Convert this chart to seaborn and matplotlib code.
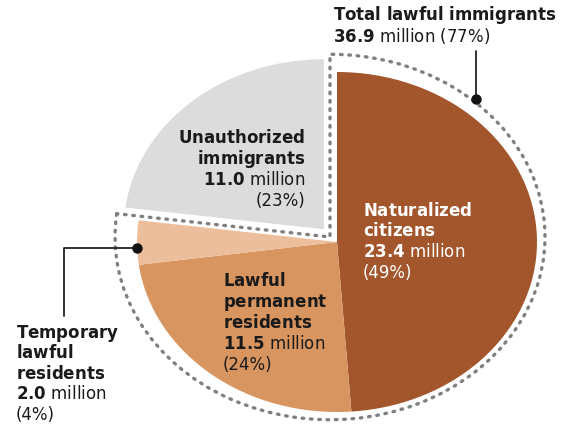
import matplotlib
matplotlib.use("Agg")
import matplotlib.pyplot as plt
from matplotlib.patches import Wedge
import seaborn as sns

# data
groups = ["Naturalized citizens", "Lawful permanent residents",
          "Temporary lawful residents", "Unauthorized immigrants"]
millions = [23.4, 11.5, 2.0, 11.0]
shares = [49, 24, 4, 23]
lawful_total = 36.9
lawful_share = 77
colors = ["#a3562b", "#d9955f", "#ecbe9c", "#dcdcdc"]
explode = [0, 0, 0, 0.1]

sns.set_theme(style="white")
plt.rcParams["font.family"] = ["DejaVu Sans"]
plt.rcParams["mathtext.fontset"] = "dejavusans"

W, H = 563, 435
fig = plt.figure(figsize=(W / 100, H / 100), dpi=100)
fig.patch.set_facecolor("white")
ax = fig.add_axes([0, 0, 1, 1])

# pie centre and radii in pixels (the original is stretched horizontally)
cx, cy, rx, ry = 337, 243, 200, 170

ax.pie(millions, colors=colors, explode=explode, startangle=90,
       counterclock=False, wedgeprops=dict(linewidth=0))
ax.set_aspect("auto")
ax.set_xlim(-cx / rx, (W - cx) / rx)
ax.set_ylim(-(H - cy) / ry, cy / ry)
ax.axis("off")


def to_data(x, y):
    return (x - cx) / rx, (cy - y) / ry


# dotted outline around the lawful share
lawful_frac = sum(millions[:3]) / sum(millions)
ring = Wedge(to_data(330, 238), 1.075, 90 - 360 * lawful_frac, 90,
             fill=False, edgecolor="#808080", linewidth=2.4,
             linestyle=(0, (0.5, 2.0)), capstyle="round")
ax.add_patch(ring)

# leader lines
lx, ly = zip(to_data(476, 52), to_data(476, 100))
ax.plot(lx, ly, color="#222222", lw=1.3)
ax.plot(*to_data(476, 100), "o", color="#111111", ms=6.5)
lx, ly = zip(to_data(137, 249), to_data(64, 249), to_data(64, 317))
ax.plot(lx, ly, color="#222222", lw=1.3)
ax.plot(*to_data(137, 249), "o", color="#111111", ms=6.5)

fs = 12


def block(x, y0, lines, dy=21, ha="left", color="#1a1a1a"):
    for i, s in enumerate(lines):
        fig.text(x / W, 1 - (y0 + i * dy) / H, s, fontsize=fs, ha=ha,
                 va="baseline", color=color)


def b(s):
    return r"$\mathbf{" + s.replace(" ", r"\ ") + "}$"


block(333, 20, [b("Total lawful immigrants"),
                b(f"{lawful_total}") + f" million ({lawful_share}%)"], dy=22)
block(305, 143, [b("Unauthorized"), b("immigrants"),
                 b(f"{millions[3]}") + " million", f"({shares[3]}%)"], ha="right")
block(363, 216, [b("Naturalized"), b("citizens"),
                 b(f"{millions[0]}") + " million", f"({shares[0]}%)"],
      dy=20.5, color="white")
block(223, 286, [b("Lawful"), b("permanent"), b("residents"),
                 b(f"{millions[1]}") + " million", f"({shares[1]}%)"])
block(16, 338, [b("Temporary"), b("lawful"), b("residents"),
                b(f"{millions[2]}") + " million", f"({shares[2]}%)"], dy=20.5)

fig.savefig("out.png", dpi=100, facecolor="white")
